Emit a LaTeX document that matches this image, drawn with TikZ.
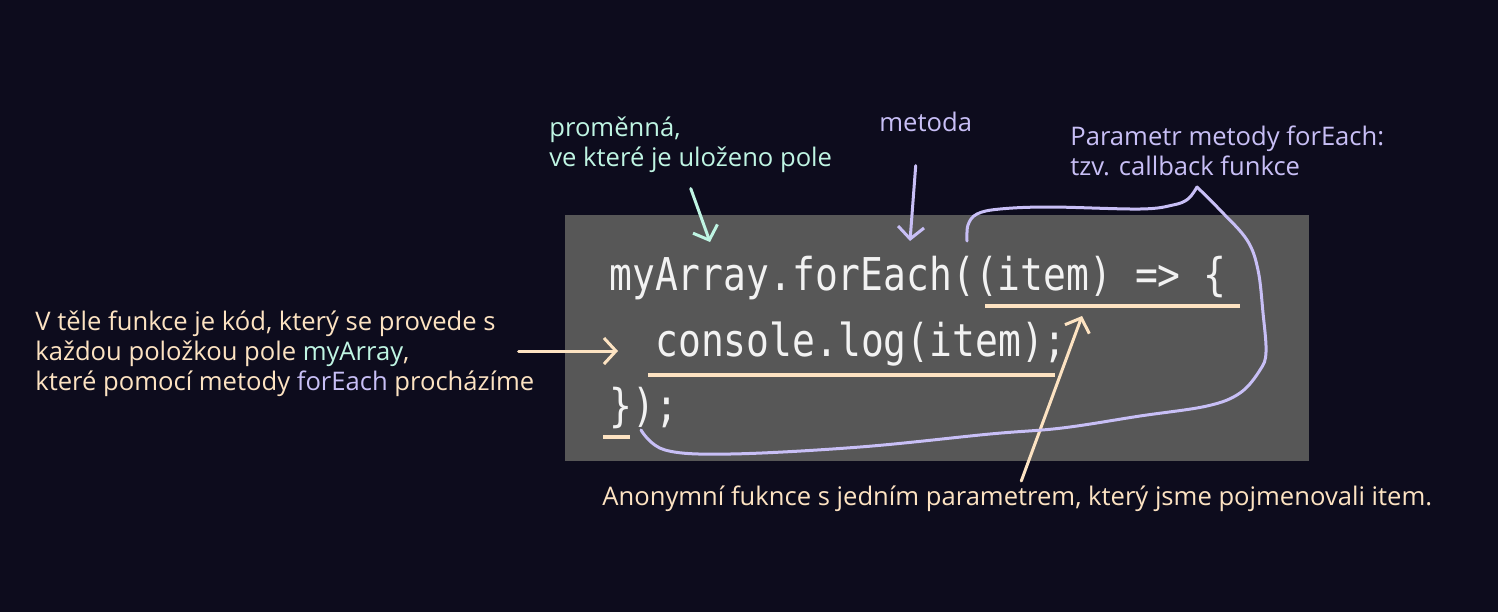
\documentclass[tikz,border=0pt]{standalone}
\usepackage{fontspec}
\setmainfont{Open Sans}
\newfontfamily\codefont[FakeStretch=0.84]{DejaVu Sans Mono}
\usetikzlibrary{arrows.meta}

\definecolor{bgnavy}{HTML}{0D0C1D}
\definecolor{codegray}{HTML}{575757}
\definecolor{mint}{HTML}{BFF5E3}
\definecolor{lilac}{HTML}{C8BFF6}
\definecolor{peach}{HTML}{FDE3C2}

\begin{document}
\begin{tikzpicture}[
  x=0.5pt, y=-0.5pt,
  >={Straight Barb[length=6pt,width=13pt]},
  note/.style={anchor=base west, inner sep=0pt, align=left, font=\fontsize{12.8}{15}\selectfont},
  code/.style={anchor=base west, inner sep=0pt, text=white!95!black, font=\codefont\fontsize{22.6}{28}\selectfont},
  pointer/.style={->, line width=1.5pt, line cap=round},
  hiline/.style={peach, line width=2pt},
  brace/.style={lilac, line width=1.5pt, line cap=round, line join=round},
]
\fill[bgnavy] (0,0) rectangle (1498,612);
\useasboundingbox (0,0) rectangle (1498,612);
\fill[codegray] (565,215) rectangle (1309,461);

% code
\node[code] (line1) at (609,290) {myArray.forEach((item) => \{};
\node[code] (line2) at (655,356) {console.log(item);};
\node[code] (line3) at (609,421) {\});};

% underlines
\draw[hiline] (985,306) -- (1240,306);
\draw[hiline] (648,375) -- (1055,375);
\draw[hiline] (603,437) -- (630,437);

% notes (base = last line)
\node[note, text=mint] (varnote) at (549,166) {proměnná,\\ve které je uloženo pole};
\node[note, text=lilac] (methodnote) at (879,131) {metoda};
\node[note, text=lilac] (paramnote) at (1070,175) {Parametr metody forEach:\\tzv. callback funkce};
\node[note, text=peach] (bodynote) at (35,390) {V těle funkce je kód, který se provede s\\každou položkou pole \textcolor{mint}{myArray},\\které pomocí metody \textcolor{lilac}{forEach} procházíme};
\node[note, text=peach] (anonnote) at (602,505) {Anonymní fuknce s jedním parametrem, který jsme pojmenovali item.};

\coordinate (vartip) at (710,242);
\coordinate (methodtip) at (910,241);
\coordinate (bodytip) at (618,351);
\coordinate (anontip) at (1082,316);

\draw[pointer, mint] ([yshift=-8pt]varnote.south) -- (vartip);
\draw[pointer, lilac] ([xshift=-5pt,yshift=-17pt]methodnote.south) -- (methodtip);
\draw[pointer, peach] ([xshift=-8pt]bodynote.east |- bodytip) -- (bodytip);
\draw[pointer, peach] ([xshift=2pt,yshift=2pt]anonnote.north) -- (anontip);

% callback brace
\draw[brace] plot[smooth, tension=0.6] coordinates {(967,241) (968,225) (977,214) (1000,209) (1050,207) (1140,209) (1173,205) (1188,199) (1197,187)};
\draw[brace] plot[smooth, tension=0.6] coordinates {(1197,187) (1220,210) (1247,240) (1258,270) (1263,313) (1266,352) (1260,370) (1240,393) (1207,406) (1140,416) (1062,428) (990,434) (860,447) (730,454) (665,450) (641,430)};
\end{tikzpicture}
\end{document}
